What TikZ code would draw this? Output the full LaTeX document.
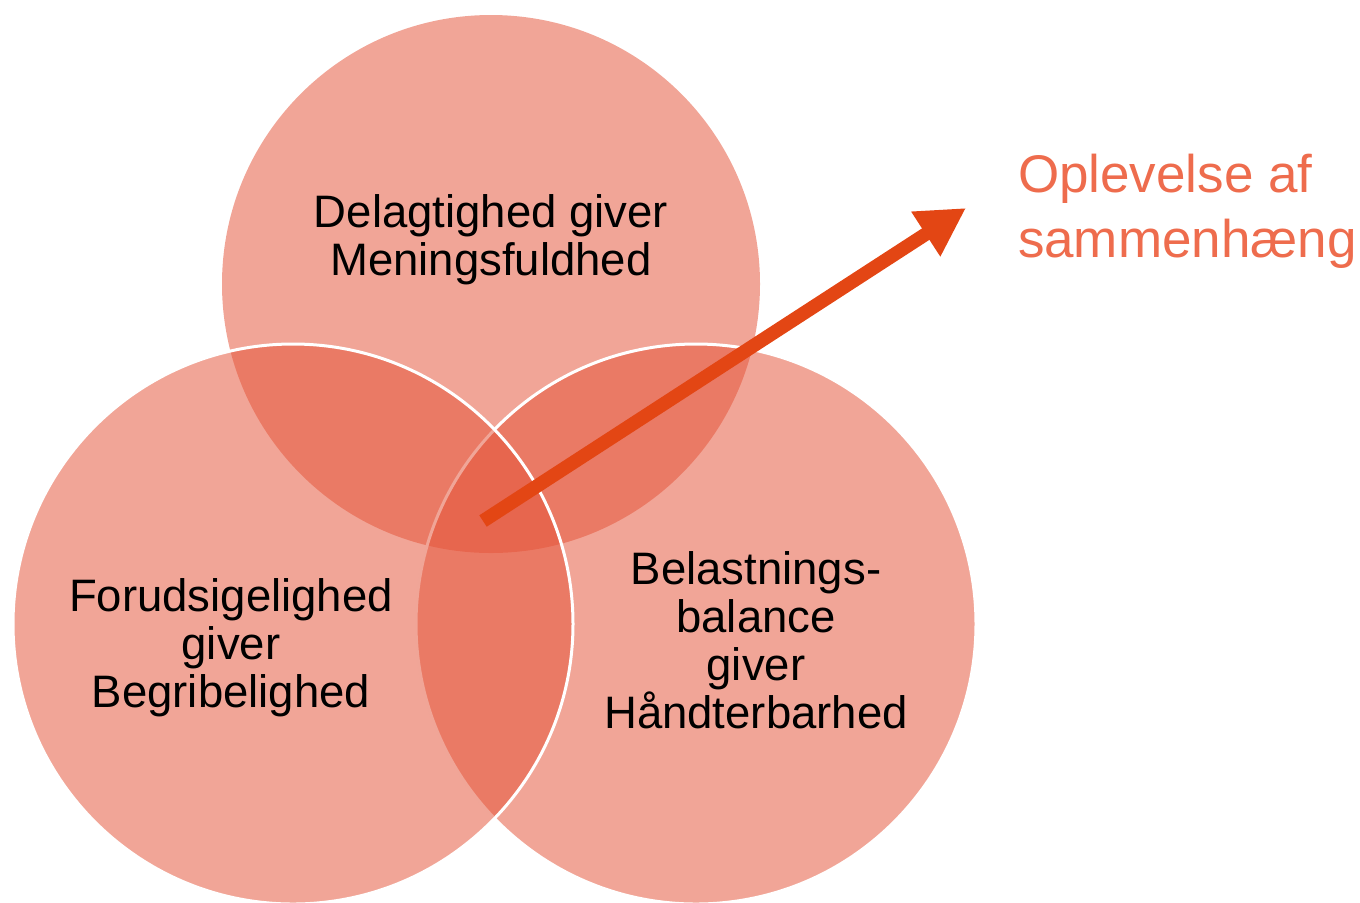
\documentclass[tikz,border=0pt]{standalone}
\usepackage{xcolor,graphicx}
\usepackage{fontspec}
\setmainfont{Liberation Sans}
\usepackage{tikz}
\usetikzlibrary{arrows.meta,shapes,backgrounds,positioning}

\definecolor{vennred}{HTML}{E45338}
\definecolor{arrowred}{HTML}{E34614}
\definecolor{titleorange}{HTML}{EE6C4D}

\begin{document}
\begin{tikzpicture}[x=0.5pt, y=-0.5pt,
  every node/.style={inner sep=0pt, outer sep=0pt},
  ring/.style={circle, fill=vennred, fill opacity=0.52},
  rimmed/.style={ring, draw=white, draw opacity=1, line width=1.5pt},
  ringtext/.style={align=center, text=black, font=\fontsize{22.75}{24}\selectfont},
  headline/.style={anchor=west, align=left, text=titleorange, font=\fontsize{26.5}{32.5}\selectfont},
  arrowline/.style={draw=arrowred, line width=6.8pt, -{Triangle[length=24pt, width=25pt]}}]

\useasboundingbox (0,0) rectangle (1360,902);

% the three circles
\node (meaning) [ring, minimum size=269pt] at (491,284) {};
\node (balance) [rimmed, minimum size=280pt] at (696,624) {};
\node (predict) [rimmed, minimum size=280pt] at (293,624) {};

% texts in the circles
\node (meaningtxt) [ringtext] at (491,240) {Delagtighed giver\\Meningsfuldhed};
\node (predicttxt) [ringtext] at (231,648) {Forudsigelighed\\giver\\Begribelighed};
\node (balancetxt) [ringtext] at (756,640) {Belastnings-\\balance\\giver\\Håndterbarhed};

\node (sense) [headline] at (1018,211) {Oplevelse af\\sammenhæng};

% arrow out of the middle
\coordinate (core) at (483,521);
\coordinate (aim) at (966,208);
\draw [arrowline] (core) -- (aim);

\end{tikzpicture}
\end{document}
